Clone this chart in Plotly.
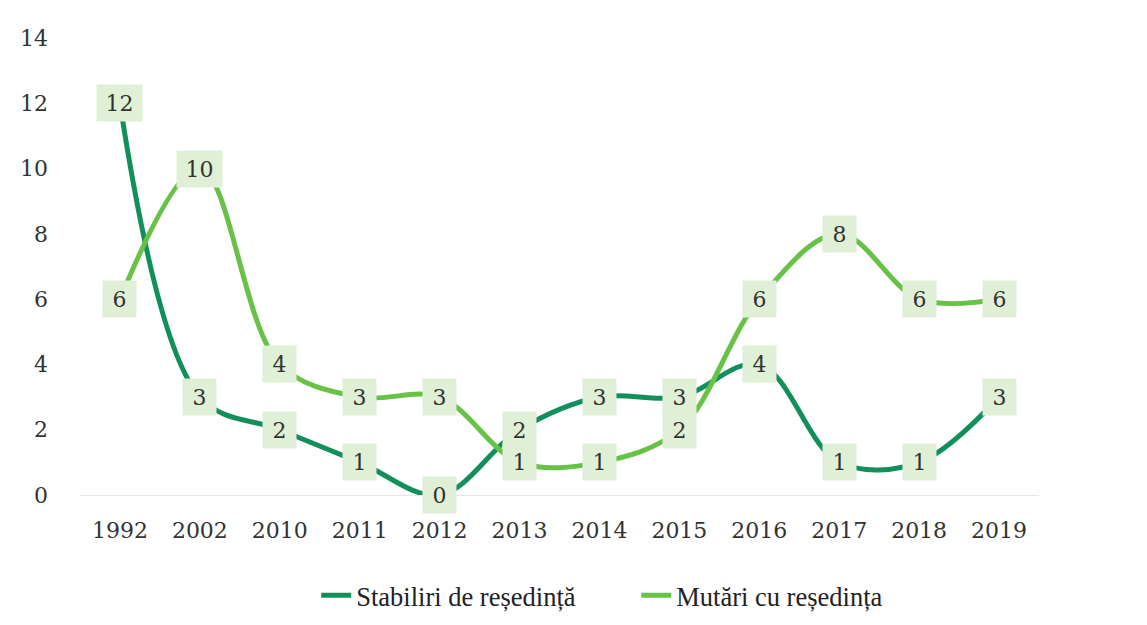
import plotly.graph_objects as go

years = ["1992", "2002", "2010", "2011", "2012", "2013", "2014", "2015", "2016", "2017", "2018", "2019"]
stabiliri = [12, 3, 2, 1, 0, 2, 3, 3, 4, 1, 1, 3]
mutari = [6, 10, 4, 3, 3, 1, 1, 2, 6, 8, 6, 6]
y_ticks = [0, 2, 4, 6, 8, 10, 12, 14]

name_s = "Stabiliri de reședință"
name_m = "Mutări cu reședința"
col_s = "#12905c"
col_m = "#68c247"
box_col = "#e0f0d6"
num_font = "DejaVu Serif"
leg_font = "Liberation Serif, Times New Roman, serif"

fig = go.Figure()
fig.add_trace(go.Scatter(x=years, y=stabiliri, mode="lines", name=name_s, legend="legend",
                         line=dict(color=col_s, width=5, shape="spline", smoothing=1)))
fig.add_trace(go.Scatter(x=years, y=mutari, mode="lines", name=name_m, legend="legend2",
                         line=dict(color=col_m, width=5, shape="spline", smoothing=1)))

for series in (stabiliri, mutari):
    for i, v in enumerate(series):
        w = 45 if v >= 10 else 33
        fig.add_annotation(x=i, y=v, xref="x", yref="y", text=str(v), showarrow=False,
                           bgcolor=box_col, width=w, height=36, borderpad=0,
                           font=dict(family=num_font, size=22, color="#333333"))

leg_common = dict(orientation="h", yanchor="middle", y=-0.22, xanchor="left",
                  font=dict(family=leg_font, size=26.5, color="#222222"),
                  bgcolor="rgba(0,0,0,0)")

fig.update_layout(
    width=1147, height=625,
    paper_bgcolor="white", plot_bgcolor="white",
    margin=dict(l=63, r=116, t=30, b=138),
    showlegend=True,
    legend=dict(x=0.2463, **leg_common),
    legend2=dict(x=0.580, **leg_common),
    xaxis=dict(type="category", showgrid=False, showline=False, zeroline=False,
               tickfont=dict(family=num_font, size=22, color="#333333"),
               ticklabelstandoff=20, range=[-0.5, 11.5]),
    yaxis=dict(range=[0, 14], tickvals=y_ticks, showgrid=False, zeroline=True,
               zerolinecolor="#e6e6e6", zerolinewidth=1, showline=False,
               tickfont=dict(family=num_font, size=22, color="#333333"),
               ticklabelstandoff=31),
)

fig.write_html("out.html")
